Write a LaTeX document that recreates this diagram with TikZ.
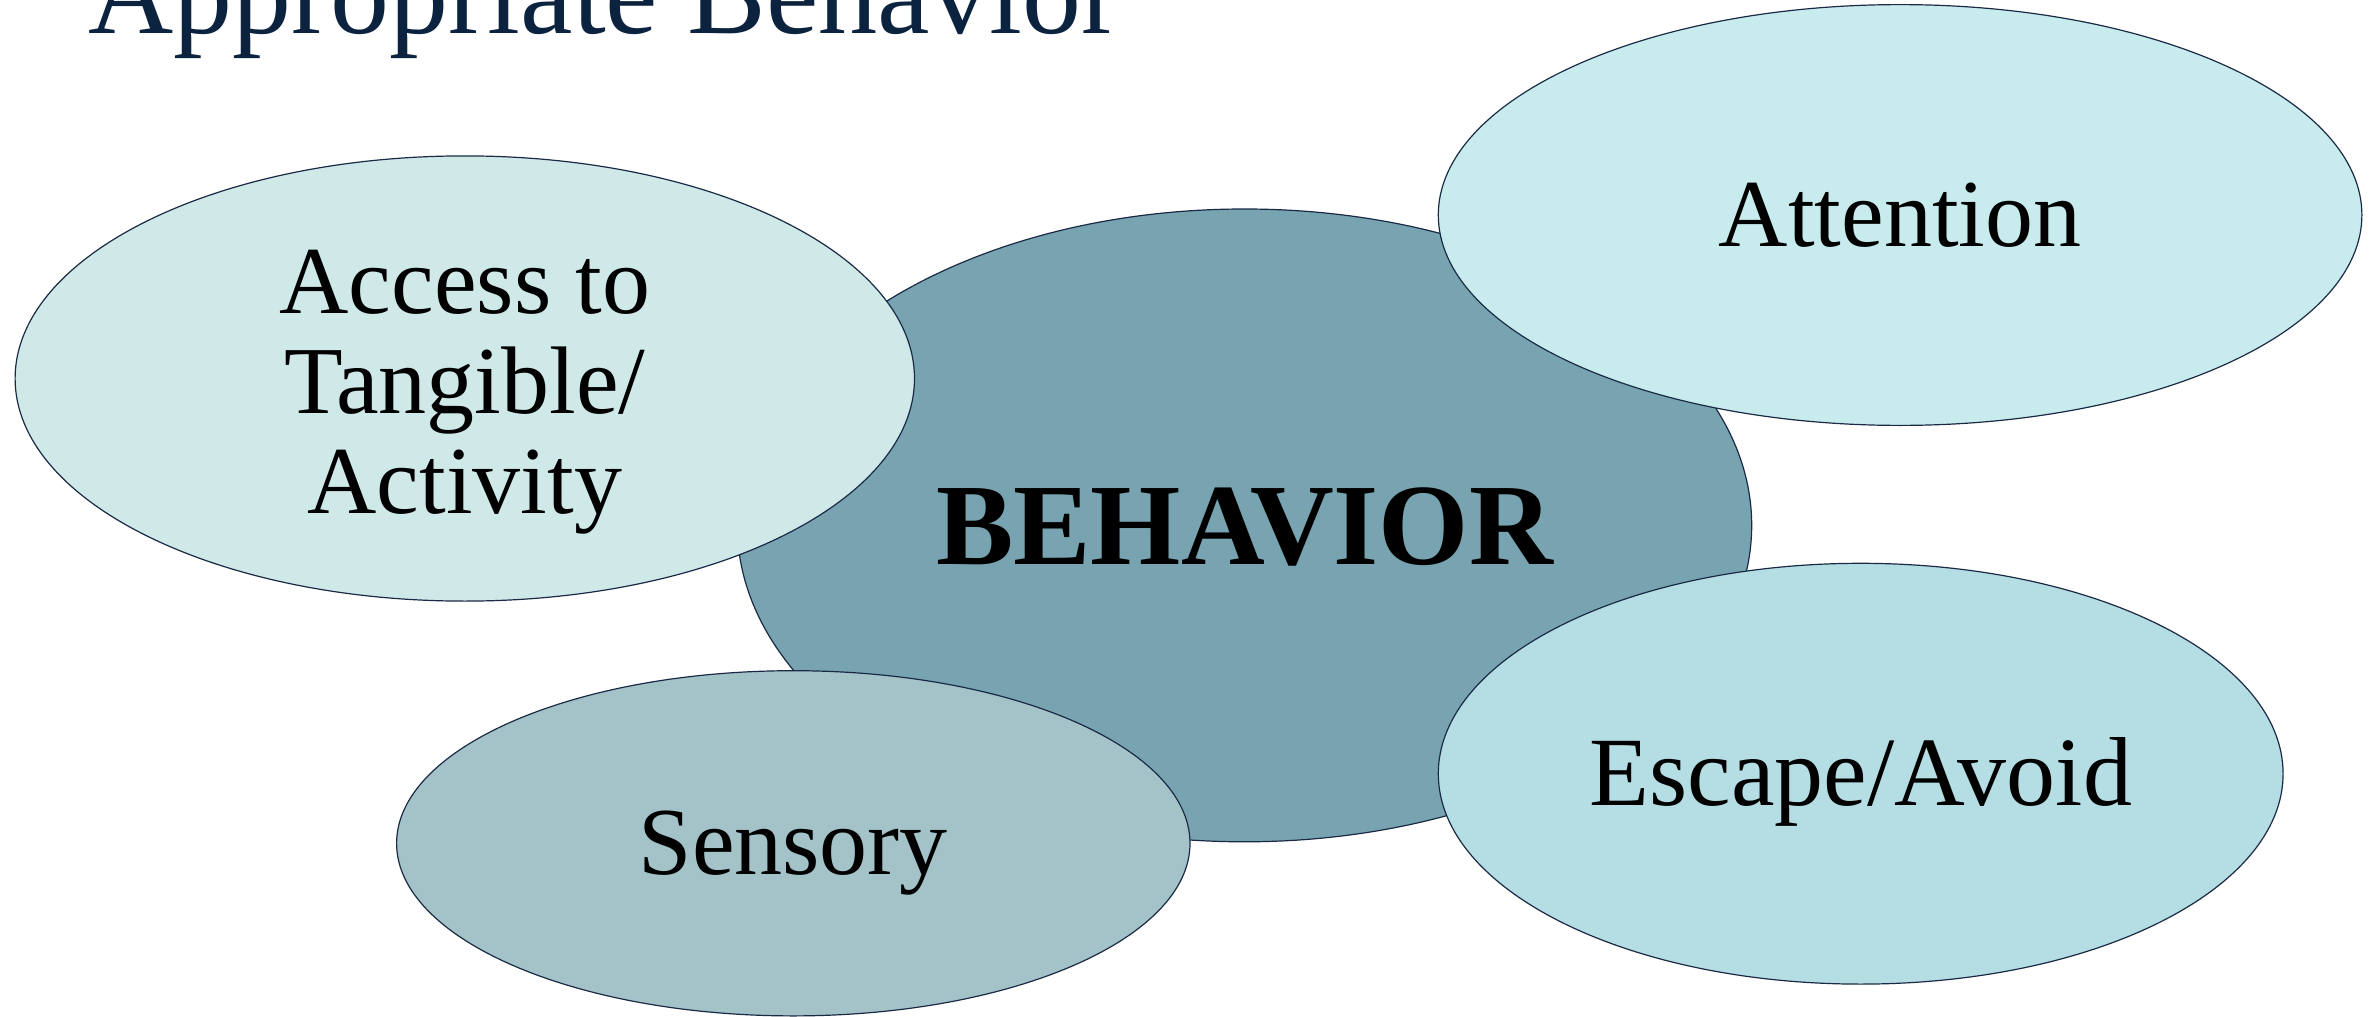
\documentclass[tikz,border=0pt]{standalone}
\usepackage{fontspec}
\setmainfont{Liberation Serif}
\usetikzlibrary{shapes.geometric}
\definecolor{titleblue}{HTML}{0C2340}
\definecolor{edge}{HTML}{1B2A44}
\definecolor{behfill}{HTML}{77A4B0}
\definecolor{accfill}{HTML}{CFE8E8}
\definecolor{attfill}{HTML}{C8ECEE}
\definecolor{escfill}{HTML}{B5DDE4}
\definecolor{senfill}{HTML}{A3C3C9}
\begin{document}
\begin{tikzpicture}[x=0.5pt,y=-0.5pt,
  blob/.style={ellipse, draw=edge, line width=0.6pt, inner sep=0pt,
    font=\fontsize{48}{50}\selectfont, align=center},
  oneline/.style={text height=32pt, text depth=0pt},
  multiline/.style={inner sep=0pt, font=\fontsize{48}{50}\selectfont, align=center}]
\useasboundingbox (0,0) rectangle (2374,1017);
\node[anchor=base west, inner sep=0pt, text=titleblue,
  font=\fontsize{59}{61}\selectfont] (title) at (87.8,33) {Appropriate Behavior};
\node[blob, oneline, fill=behfill, minimum width=507.2pt, minimum height=316.4pt,
  font=\fontsize{58}{60}\selectfont\bfseries, text height=39pt] (beh) at (1244.5,525.4) {BEHAVIOR};
\node[blob, fill=accfill, minimum width=449.7pt, minimum height=222.6pt] (acc) at (464.8,378.5) {};
\node[multiline] (acctext) at ([yshift=-6.8pt]acc.center) {Access to\\Tangible/\\Activity};
\node[blob, oneline, fill=attfill, minimum width=461.8pt, minimum height=210.4pt, text height=31pt] (att) at (1900.1,215.0) {Attention};
\node[blob, oneline, fill=escfill, minimum width=422.4pt, minimum height=210.4pt,
  font=\fontsize{49}{51}\selectfont] (esc) at (1860.7,773.7) {Escape/Avoid};
\node[blob, oneline, fill=senfill, minimum width=396.7pt, minimum height=172.6pt, text height=31pt] (sen) at (793.3,843.3) {Sensory};
\end{tikzpicture}
\end{document}
